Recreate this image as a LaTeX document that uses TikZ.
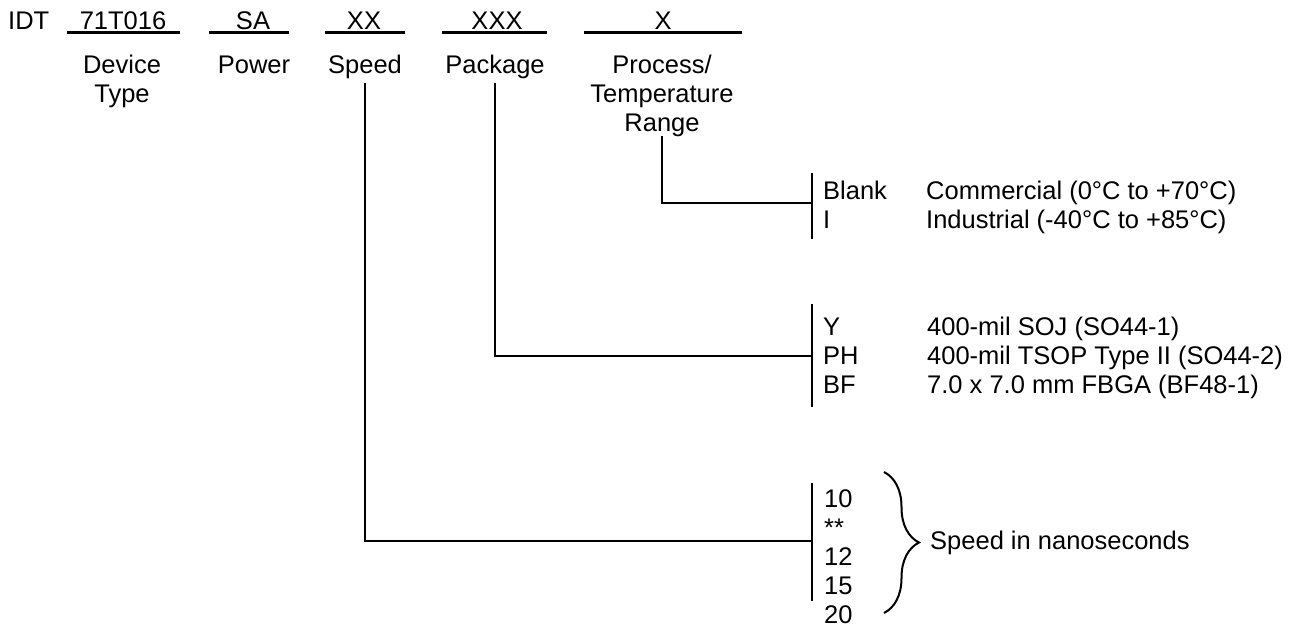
\documentclass[tikz,border=0pt]{standalone}
\usepackage{fontspec}
\setmainfont{Liberation Sans}
\usetikzlibrary{decorations.pathreplacing}
\begin{document}
\begin{tikzpicture}[x=1pt,y=-1pt,font=\fontsize{25.5pt}{29pt}\selectfont]
%styles
\tikzstyle{codeText}=[inner sep=0pt, anchor=base]
\tikzstyle{fieldText}=[inner sep=0pt, anchor=base, align=center]
\tikzstyle{itemText}=[inner sep=0pt, anchor=base west]
\tikzstyle{trait}=[line width=2.2pt]
\useasboundingbox (0,0) rectangle (1305,630);
%code
\node[codeText, anchor=base west] (idt) at (8,29) {IDT};
\node[codeText] (c1) at (123,29) {71T016};
\node[codeText] (c2) at (253,29) {SA};
\node[codeText] (c3) at (364,29) {XX};
\node[codeText] (c4) at (497,29) {XXX};
\node[codeText] (c5) at (663,29) {X};
\draw[trait] (67,32.5) -- (180,32.5);
\draw[trait] (209,32.5) -- (289,32.5);
\draw[trait] (325,32.5) -- (405,32.5);
\draw[trait] (442,32.5) -- (547,32.5);
\draw[trait] (584,32.5) -- (742,32.5);
%fields (base = last line)
\node[fieldText] (f1) at (122,102) {Device\\Type};
\node[fieldText] (f2) at (254,73) {Power};
\node[fieldText] (f3) at (365,73) {Speed};
\node[fieldText] (f4) at (495,73) {Package};
\node[fieldText] (f5) at (662,131) {Process/\\Temperature\\Range};
%bars
\coordinate (b1) at (812,203);
\coordinate (b2) at (812,356);
\coordinate (b3) at (812,541);
\draw[trait] (812,173) -- (812,239);
\draw[trait] (812,304) -- (812,407);
\draw[trait] (812,483) -- (812,601);
%process
\node[itemText] (blank) at (823,199) {Blank};
\node[itemText] (ind) at (823,228) {I};
\node[itemText] (com) at (926,199) {Commercial (0°C to +70°C)};
\node[itemText] (indt) at (926,228) {Industrial (-40°C to +85°C)};
%package
\node[itemText] (y) at (823,335) {Y};
\node[itemText] (ph) at (823,364) {PH};
\node[itemText] (bf) at (823,393) {BF};
\node[itemText] (soj) at (927,335) {400-mil SOJ (SO44-1)};
\node[itemText] (tsop) at (927,364) {400-mil TSOP Type II (SO44-2)};
\node[itemText] (fbga) at (927,393) {7.0 x 7.0 mm FBGA (BF48-1)};
%speed
\node[itemText] (s10) at (824,507) {10};
\node[itemText] (sst) at (824,536) {**};
\node[itemText] (s12) at (824,565) {12};
\node[itemText] (s15) at (824,594) {15};
\node[itemText] (s20) at (824,623) {20};
\draw[decorate, decoration={brace, amplitude=35pt}, line width=2pt] (884,472) -- (884,613);
\node[itemText] (ns) at (930,549) {Speed in nanoseconds};
%lines
\draw[trait] (f5.south) |- (b1);
\draw[trait] ([yshift=-5pt]f4.south) |- (b2);
\draw[trait] ([yshift=-5pt]f3.south) |- (b3);
\end{tikzpicture}
\end{document}
